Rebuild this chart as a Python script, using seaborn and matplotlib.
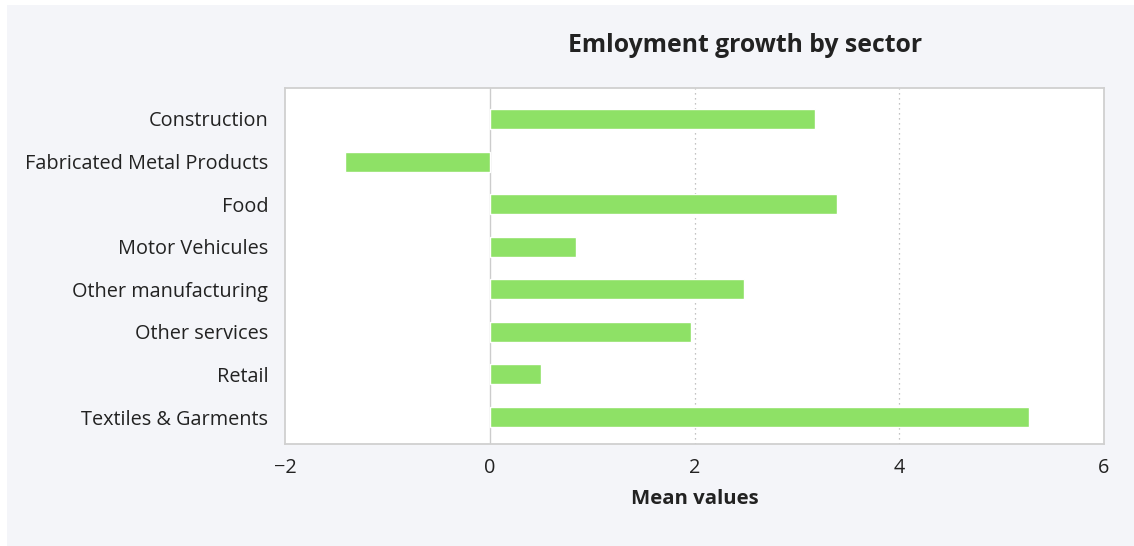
import matplotlib
matplotlib.use("Agg")
import matplotlib.pyplot as plt
import seaborn as sns
import pandas as pd
from matplotlib.patches import Rectangle

sectors = [
    "Construction",
    "Fabricated Metal Products",
    "Food",
    "Motor Vehicules",
    "Other manufacturing",
    "Other services",
    "Retail",
    "Textiles & Garments",
]
mean_values = [3.18, -1.41, 3.39, 0.84, 2.48, 1.97, 0.50, 5.27]
x_ticks = [-2, 0, 2, 4, 6]

df = pd.DataFrame({"sector": sectors, "value": mean_values})

sns.set_theme(style="white")
plt.rcParams["font.family"] = ["Open Sans", "Noto Sans", "DejaVu Sans"]
plt.rcParams["axes.unicode_minus"] = True

W, H = 1134, 546
fig = plt.figure(figsize=(W / 100, H / 100), dpi=100, facecolor="white")
fig.patches.append(Rectangle((7 / W, 0), 1 - 7 / W, 1 - 5 / H,
                             transform=fig.transFigure, facecolor="#f4f5f9",
                             edgecolor="none", zorder=-10))

ax = fig.add_axes([285 / W, 1 - 444 / H, (1104 - 285) / W, (444 - 88) / H])
ax.set_facecolor("white")

sns.barplot(data=df, x="value", y="sector", orient="h", color="#8ee166",
            saturation=1, width=0.47, ax=ax, zorder=3)

ax.set_xlim(-2, 6)
ax.set_ylim(7.634, -0.728)
ax.set_xticks(x_ticks)
ax.set_xticklabels([f"{t:d}".replace("-", "\u2212") for t in x_ticks])
for t in [2, 4]:
    ax.axvline(t, color="#b0b0b0", lw=0.9, ls=(0, (1, 3)), zorder=1)
ax.axvline(0, color="#cccccc", lw=1.0, zorder=2)

for s in ax.spines.values():
    s.set_color("#d0d0d0")
    s.set_linewidth(1.3)

ax.tick_params(axis="both", length=0, labelsize=14.3, colors="#222222")
ax.tick_params(axis="y", pad=12)
ax.tick_params(axis="x", pad=10)
ax.set_ylabel("")
ax.set_xlabel("Mean values", fontsize=14.7, fontweight="bold", color="#222222", labelpad=8)

fig.text(745 / W, 1 - 45 / H, "Emloyment growth by sector", ha="center", va="center",
         fontsize=17.8, fontweight="bold", color="#222222")

fig.savefig("out.png", dpi=100, facecolor="white")
